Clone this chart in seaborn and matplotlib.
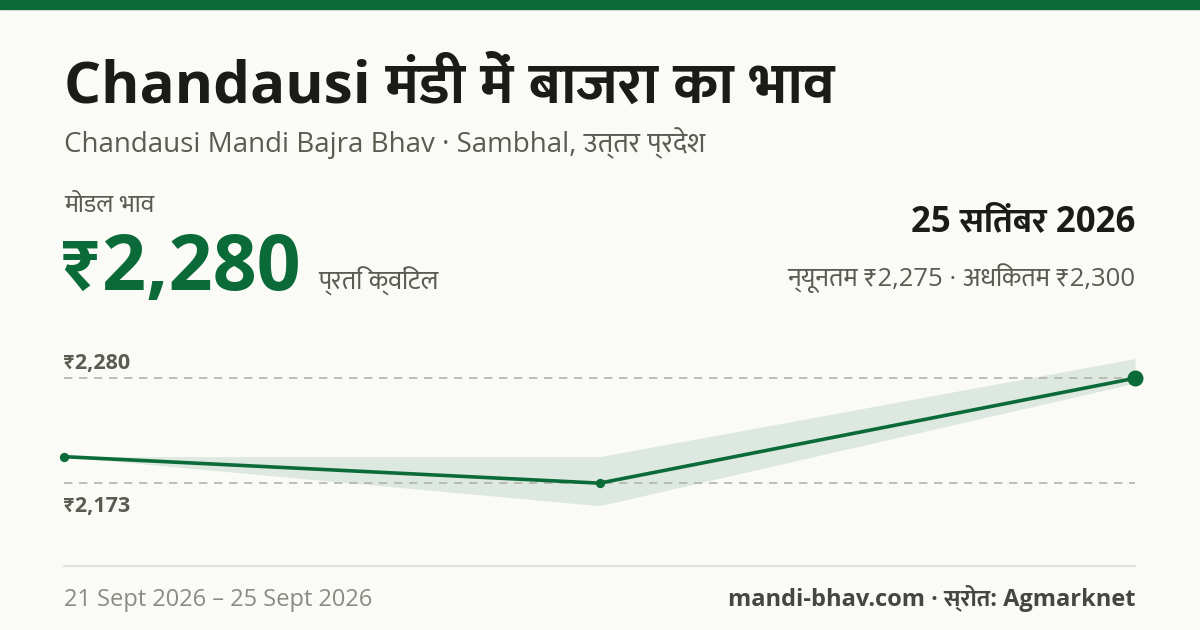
import matplotlib
matplotlib.use("Agg")
import matplotlib.pyplot as plt
import matplotlib.transforms as mtransforms
from matplotlib import font_manager
import pandas as pd
import seaborn as sns

# data
dates = ["2026-09-21", "2026-09-23", "2026-09-25"]
modal_price = [2200, 2173, 2280]
min_price = [2200, 2150, 2275]
max_price = [2200, 2200, 2300]

title = "Chandausi मंडी में बाजरा का भाव"
subtitle = "Chandausi Mandi Bajra Bhav · Sambhal, उत्तर प्रदेश"
modal_label = "मोडल भाव"
unit_label = "प्रति क्विंटल"
date_label = "25 सितंबर 2026"
range_label = "न्यूनतम ₹2,275 · अधिकतम ₹2,300"
footer_left = "21 Sept 2026 – 25 Sept 2026"
footer_right = "mandi-bhav.com · स्रोत: Agmarknet"

GREEN = "#0b6b38"
BAND = "#dde8e0"
BG = "#fafaf6"
DARK = "#1b1b17"
GREY = "#5a5c52"
LIGHT = "#8a8b82"


def pick_family(prefs):
    # first family that has a static regular and a static bold face
    weights = {}
    for f in font_manager.fontManager.ttflist:
        if f.style == "normal" and "[" not in f.fname:
            weights.setdefault(f.name, set()).add(f.weight)
    for name in prefs:
        w = weights.get(name, set())
        if 400 in w and 700 in w:
            return [name]
    return []


sns.set_theme(style="white")
latin = pick_family(["Noto Sans", "Open Sans", "Lato", "Roboto"])
deva = pick_family(["Noto Sans Devanagari", "Mukta", "Hind", "Ek Mukta"])
plt.rcParams["font.family"] = latin + deva + ["DejaVu Sans"]

W, H = 1200, 630
fig = plt.figure(figsize=(W / 100, H / 100), dpi=100, facecolor=BG)


def px(x, y):
    return x / W, 1 - y / H


def ftext(x, y, s, **kw):
    return fig.text(*px(x, y), s, va="baseline", **kw)


# top bar
fig.patches.append(plt.Rectangle((0, 1 - 9 / H), 1, 9 / H, transform=fig.transFigure,
                                 color=GREEN, zorder=0))

ftext(64, 103, title, fontsize=42, fontweight="bold", color=DARK)
ftext(64, 152, subtitle, fontsize=20, color=GREY)
ftext(64, 212, modal_label, fontsize=18, color=GREY)
ftext(63, 290, f"₹{modal_price[-1]:,}", fontsize=55.5, fontweight="bold", color=GREEN)
ftext(318, 290, unit_label, fontsize=18.5, color=GREY)
ftext(1135, 231, date_label, fontsize=25, fontweight="bold", color=DARK, ha="right")
ftext(1135, 286, range_label, fontsize=18.5, color=GREY, ha="right")

# chart
df = pd.DataFrame({"date": pd.to_datetime(dates), "modal": modal_price,
                   "low": min_price, "high": max_price})

ax = fig.add_axes([64 / W, (H - 540) / H, (1135 - 64) / W, 200 / H])
ax.set_facecolor("none")
ax.fill_between(df["date"], df["low"], df["high"], color=BAND, lw=0, zorder=1)
sns.lineplot(data=df, x="date", y="modal", ax=ax, color=GREEN, lw=2.6, zorder=3)
ax.scatter(df["date"][:-1], df["modal"][:-1], s=32, color=GREEN, zorder=4, clip_on=False)
ax.scatter(df["date"].iloc[-1:], df["modal"].iloc[-1:], s=110, color=GREEN, zorder=4, clip_on=False)

hi, lo = max(modal_price), min(modal_price)
for v in (hi, lo):
    ax.axhline(v, color="#b3b4ab", lw=1.2, ls=(0, (5, 4)), zorder=2)
trans = mtransforms.blended_transform_factory(ax.transAxes, ax.transData)
ax.annotate(f"₹{hi:,}", xy=(0, hi), xycoords=trans, xytext=(0, 6.5), textcoords="offset points",
            va="baseline", fontsize=15.5, fontweight="bold", color=GREY)
ax.annotate(f"₹{lo:,}", xy=(0, lo), xycoords=trans, xytext=(0, -21), textcoords="offset points",
            va="baseline", fontsize=15.5, fontweight="bold", color=GREY)

ax.set_xlim(df["date"].iloc[0], df["date"].iloc[-1])
ax.set_ylim(2115, 2319)
ax.set_xlabel("")
ax.set_ylabel("")
ax.set_xticks([])
ax.set_yticks([])
sns.despine(ax=ax, left=True, bottom=True)

# footer
fig.add_artist(plt.Line2D([64 / W, 1135 / W], [1 - 566 / H] * 2, transform=fig.transFigure,
                          color="#e2e2dc", lw=1.6))
ftext(64, 606, footer_left, fontsize=17, color=LIGHT)
ftext(1135, 606, footer_right, fontsize=17, fontweight="bold", color="#45463f", ha="right")

fig.savefig("out.png", dpi=100, facecolor=BG)
